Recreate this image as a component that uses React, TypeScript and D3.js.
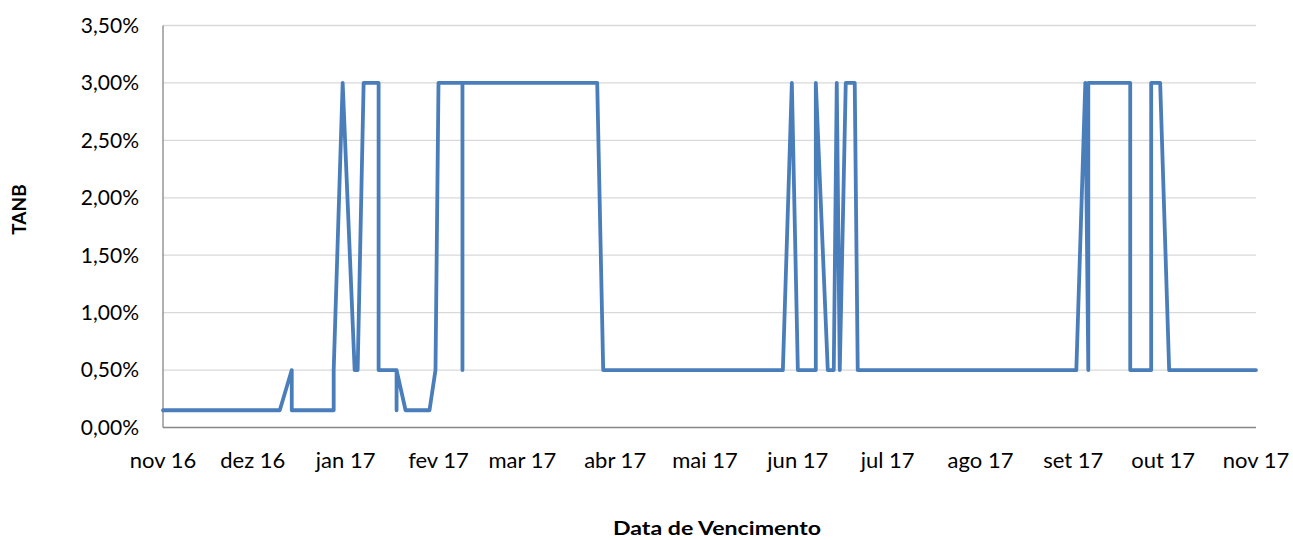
import React, { useEffect, useRef } from 'react'
import * as d3 from 'd3'

// maturity dates and TANB (%)
const dates = [
  '2016-11-01', '2016-12-10', '2016-12-14', '2016-12-14', '2016-12-28', '2016-12-28',
  '2016-12-31', '2017-01-04', '2017-01-05', '2017-01-07', '2017-01-12', '2017-01-12',
  '2017-01-18', '2017-01-18', '2017-01-18', '2017-01-21', '2017-01-29', '2017-01-31',
  '2017-02-01', '2017-02-09', '2017-02-09', '2017-02-09', '2017-03-26', '2017-03-28',
  '2017-05-27', '2017-05-30', '2017-06-01', '2017-06-07', '2017-06-07', '2017-06-11',
  '2017-06-13', '2017-06-14', '2017-06-15', '2017-06-17', '2017-06-20', '2017-06-21',
  '2017-09-02', '2017-09-05', '2017-09-06', '2017-09-06', '2017-09-20', '2017-09-20',
  '2017-09-27', '2017-09-27', '2017-09-30', '2017-10-03', '2017-11-01',
]
const tanb = [
  0.15, 0.15, 0.5, 0.15, 0.15, 0.5,
  3.0, 0.5, 0.5, 3.0, 3.0, 0.5,
  0.5, 0.15, 0.5, 0.15, 0.15, 0.5,
  3.0, 3.0, 0.5, 3.0, 3.0, 0.5,
  0.5, 3.0, 0.5, 0.5, 3.0, 0.5,
  0.5, 3.0, 0.5, 3.0, 3.0, 0.5,
  0.5, 3.0, 0.5, 3.0, 3.0, 0.5,
  0.5, 3.0, 3.0, 0.5, 0.5,
]
const monthNames = ['jan', 'fev', 'mar', 'abr', 'mai', 'jun', 'jul', 'ago', 'set', 'out', 'nov', 'dez']
const yTicks = [0, 0.5, 1, 1.5, 2, 2.5, 3, 3.5]

const width = 1293
const height = 540
const left = 163
const right = 1256
const top = 25.5
const bottom = 427.5
const font = 'Lato, "Open Sans", sans-serif'

const App = () => {
  const ref = useRef<SVGSVGElement>(null)

  useEffect(() => {
    const parse = d3.timeParse('%Y-%m-%d')
    const data = dates.map((d, i) => ({ date: parse(d) as Date, v: tanb[i] }))

    const x = d3.scaleTime()
      .domain([parse('2016-11-01') as Date, parse('2017-11-01') as Date])
      .range([left, right])
    const y = d3.scaleLinear().domain([0, 3.5]).range([bottom, top])

    const svg = d3.select(ref.current)
    svg.selectAll('*').remove()

    // gridlines
    svg.append('g')
      .selectAll('line')
      .data(yTicks.slice(1))
      .join('line')
      .attr('x1', left).attr('x2', right)
      .attr('y1', d => y(d)).attr('y2', d => y(d))
      .attr('stroke', '#d9d9d9').attr('stroke-width', 1.3)

    // axes lines
    svg.append('line')
      .attr('x1', left).attr('x2', left).attr('y1', top).attr('y2', bottom)
      .attr('stroke', '#868686').attr('stroke-width', 1.3)
    svg.append('line')
      .attr('x1', left).attr('x2', right).attr('y1', bottom).attr('y2', bottom)
      .attr('stroke', '#868686').attr('stroke-width', 1.3)

    // y labels
    svg.append('g')
      .style('font', `21px ${font}`)
      .attr('text-anchor', 'end')
      .selectAll('text')
      .data(yTicks)
      .join('text')
      .attr('x', 139)
      .attr('y', d => y(d))
      .attr('dy', '0.35em')
      .attr('fill', '#000')
      .text(d => d3.format('.2f')(d).replace('.', ',') + '%')

    // x labels
    const months = x.ticks(d3.timeMonth.every(1) as d3.TimeInterval)
    svg.append('g')
      .style('font', `22px ${font}`)
      .attr('text-anchor', 'middle')
      .selectAll('text')
      .data(months)
      .join('text')
      .attr('x', d => x(d))
      .attr('y', 468)
      .attr('fill', '#000')
      .text(d => `${monthNames[d.getMonth()]} ${String(d.getFullYear()).slice(2)}`)

    // series
    const line = d3.line<{ date: Date; v: number }>()
      .x(d => x(d.date))
      .y(d => y(d.v))
    svg.append('path')
      .datum(data)
      .attr('d', line)
      .attr('fill', 'none')
      .attr('stroke', '#4a7ebb')
      .attr('stroke-width', 3.8)
      .attr('stroke-linejoin', 'round')
      .attr('stroke-linecap', 'round')

    // axis titles
    svg.append('text')
      .attr('transform', `translate(25.5,209.5) rotate(-90)`)
      .attr('text-anchor', 'middle')
      .style('font', `bold 19px ${font}`)
      .text('TANB')
    svg.append('text')
      .attr('x', 717).attr('y', 535)
      .attr('text-anchor', 'middle')
      .attr('textLength', 208)
      .attr('lengthAdjust', 'spacingAndGlyphs')
      .style('font', `bold 19px ${font}`)
      .text('Data de Vencimento')

    return () => { svg.selectAll('*').remove() }
  }, [])

  return (
    <svg ref={ref} width={width} height={height}
      style={{ position: 'absolute', left: 0, top: 0, background: '#fff' }} />
  )
}

export default App
